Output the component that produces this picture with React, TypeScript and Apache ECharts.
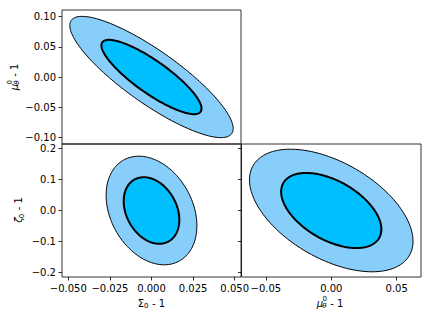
import React, { useEffect, useRef } from "react";
import * as echarts from "echarts";

// Axis ranges
const sigmaRange = [-0.0538, 0.0538]; // Σ0 - 1
const muRangeTop = [-0.111, 0.111]; // μθ0 - 1 (top panel, y)
const zetaRange = [-0.215, 0.215]; // ζ0 - 1
const muRangeRight = [-0.0686, 0.0686]; // μθ0 - 1 (bottom-right, x)

// Tick values
const sigmaTicks = [-0.05, -0.025, 0, 0.025, 0.05];
const muTicksTop = [-0.1, -0.05, 0, 0.05, 0.1];
const zetaTicks = [-0.2, -0.1, 0, 0.1, 0.2];
const muTicksRight = [-0.05, 0, 0.05];

// Confidence-level scale factors (outer 95%, inner 68%)
const levelScale = [2.48, 1.52];
const levelFill = ["#87CEFA", "#00BFFF"];
const levelStroke = [1, 2];

// Per panel: [top-left (Σ, μ), bottom-left (Σ, ζ), bottom-right (μ, ζ)]
const panelCenterX = [0, 0, 0];
const panelCenterY = [0, 0, 0];
const panelSigmaX = [0.0198, 0.011, 0.0252];
const panelSigmaY = [0.0405, 0.0708, 0.0799];
const panelRho = [-0.85, -0.28, -0.5];

const FONT = "DejaVu Sans";

function fmt(dec: number) {
  return (v: number) => {
    const s = Math.abs(v).toFixed(dec);
    return (v < -1e-12 ? "\u2212" : "") + s;
  };
}

let measureCtx: CanvasRenderingContext2D | null = null;
function measure(text: string, size: number, italic: boolean) {
  if (!measureCtx) measureCtx = document.createElement("canvas").getContext("2d");
  if (!measureCtx) return text.length * size * 0.6;
  measureCtx.font = `${italic ? "italic " : ""}${size}px "${FONT}"`;
  return measureCtx.measureText(text).width;
}

function mathLabel(
  base: string,
  baseItalic: boolean,
  sub: string,
  sup: string,
  tail: string,
  x: number,
  y: number,
  rotate: boolean
) {
  const main = 10;
  const small = 7;
  const wBase = measure(base, main, baseItalic) - (baseItalic ? 0.8 : 0);
  const wSub = sub ? measure(sub, small, sub === "θ") : 0;
  const wSup = sup ? measure(sup, small, false) : 0;
  const wScript = Math.max(wSub, wSup) + 0.3;
  const wTail = measure(tail, main, false);
  const total = wBase + wScript + wTail;
  const x0 = -total / 2;
  const children: any[] = [
    {
      type: "text",
      x: x0,
      y: 0,
      style: { text: base, fontSize: main, fontFamily: FONT, fontStyle: baseItalic ? "italic" : "normal", fill: "#000", align: "left", verticalAlign: "middle" },
    },
  ];
  if (sub) {
    children.push({
      type: "text",
      x: x0 + wBase,
      y: 3,
      style: { text: sub, fontSize: small, fontFamily: FONT, fontStyle: sub === "θ" ? "italic" : "normal", fill: "#000", align: "left", verticalAlign: "middle" },
    });
  }
  if (sup) {
    children.push({
      type: "text",
      x: x0 + wBase + 0.3,
      y: -4,
      style: { text: sup, fontSize: small, fontFamily: FONT, fill: "#000", align: "left", verticalAlign: "middle" },
    });
  }
  children.push({
    type: "text",
    x: x0 + wBase + wScript,
    y: 0,
    style: { text: tail, fontSize: main, fontFamily: FONT, fill: "#000", align: "left", verticalAlign: "middle" },
  });
  return { type: "group", x, y, rotation: rotate ? Math.PI / 2 : 0, children };
}

function ellipseSeries(panel: number) {
  return {
    type: "custom",
    xAxisIndex: panel,
    yAxisIndex: panel,
    clip: true,
    data: levelScale.map((k, i) => [k, i]),
    renderItem: (_params: any, api: any) => {
      const k = api.value(0);
      const lvl = api.value(1);
      const cx = panelCenterX[panel];
      const cy = panelCenterY[panel];
      const sx = panelSigmaX[panel];
      const sy = panelSigmaY[panel];
      const r = panelRho[panel];
      const q = Math.sqrt(1 - r * r);
      const pts: number[][] = [];
      const N = 180;
      for (let j = 0; j < N; j++) {
        const t = (2 * Math.PI * j) / N;
        const u = Math.cos(t);
        const w = Math.sin(t);
        const vx = cx + k * sx * u;
        const vy = cy + k * sy * (r * u + q * w);
        pts.push(api.coord([vx, vy]));
      }
      return {
        type: "polygon",
        shape: { points: pts },
        style: { fill: levelFill[lvl], stroke: "#000", lineWidth: levelStroke[lvl] },
      };
    },
  };
}

function valueAxis(
  gridIndex: number,
  range: number[],
  ticks: number[],
  dec: number,
  showLabels: boolean,
  showTicks: boolean
) {
  return {
    type: "value",
    gridIndex,
    min: range[0],
    max: range[1],
    splitLine: { show: false },
    axisLine: { show: false, onZero: false },
    axisTick: {
      show: showTicks,
      length: 3.5,
      inside: false,
      customValues: ticks,
      lineStyle: { color: "#000", width: 0.8 },
    },
    axisLabel: {
      show: showLabels,
      customValues: ticks,
      formatter: fmt(dec),
      color: "#000",
      fontSize: 10,
      fontFamily: FONT,
      margin: 6,
      hideOverlap: false,
    },
  };
}

export default function App() {
  const ref = useRef<HTMLDivElement>(null);
  useEffect(() => {
    if (!ref.current) return;
    const chart = echarts.init(ref.current, undefined, { renderer: "svg" });
    const gridStyle = { show: true, borderColor: "#000", borderWidth: 0.8, backgroundColor: "transparent", containLabel: false };
    chart.setOption({
      animation: false,
      backgroundColor: "#fff",
      grid: [
        { ...gridStyle, left: 62, top: 10, width: 179, height: 134 },
        { ...gridStyle, left: 62, top: 144, width: 179, height: 133 },
        { ...gridStyle, left: 241.5, top: 144, width: 179.5, height: 133 },
      ],
      xAxis: [
        valueAxis(0, sigmaRange, sigmaTicks, 3, false, false),
        valueAxis(1, sigmaRange, sigmaTicks, 3, true, true),
        valueAxis(2, muRangeRight, muTicksRight, 2, true, true),
      ],
      yAxis: [
        valueAxis(0, muRangeTop, muTicksTop, 2, true, true),
        valueAxis(1, zetaRange, zetaTicks, 1, true, true),
        valueAxis(2, zetaRange, zetaTicks, 1, false, true),
      ],
      series: [ellipseSeries(0), ellipseSeries(1), ellipseSeries(2)],
      graphic: [
        mathLabel("μ", true, "θ", "0", " - 1", 14, 77, true),
        mathLabel("ζ", true, "0", "", " - 1", 18.5, 210, true),
        mathLabel("Σ", false, "0", "", " - 1", 151.5, 303, false),
        mathLabel("μ", true, "θ", "0", " - 1", 330, 303, false),
      ],
    });
    return () => chart.dispose();
  }, []);
  return <div ref={ref} style={{ width: 432, height: 319, position: "absolute", left: 0, top: 0 }} />;
}
